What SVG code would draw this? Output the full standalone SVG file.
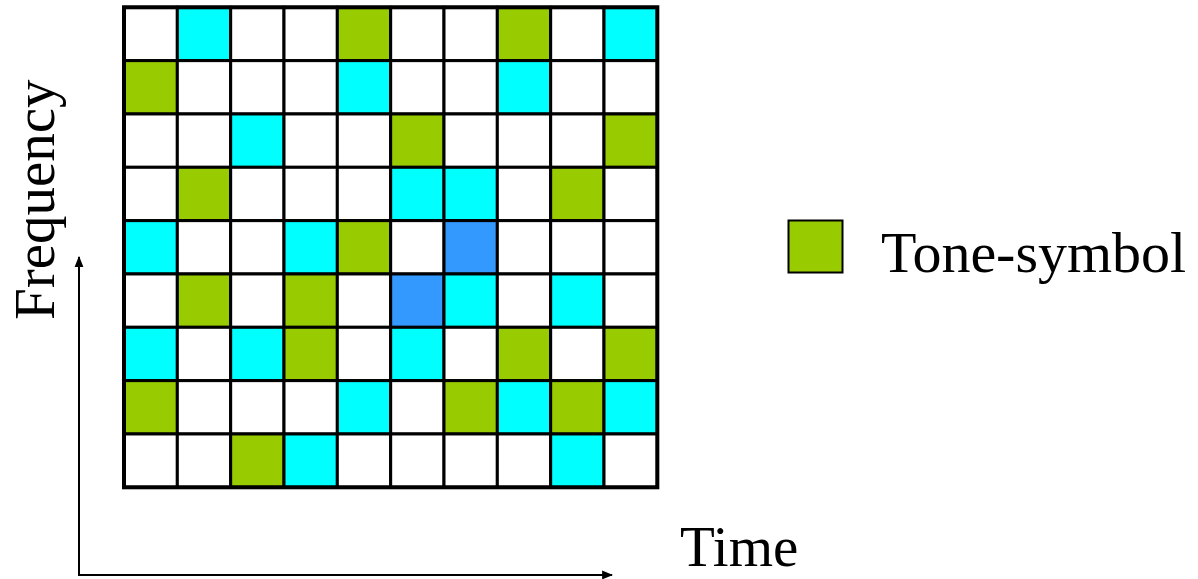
<svg xmlns="http://www.w3.org/2000/svg" width="1198" height="579" viewBox="0 0 1198 579">
<style>
.c{stroke:#000;stroke-width:3}
.w{fill:#fff}.g{fill:#99cc00}.q{fill:#00ffff}.b{fill:#3399ff}
.t{font-family:"Liberation Serif",serif;font-size:57px;fill:#000}
</style>
<defs>
<marker id="ah" viewBox="0 0 10 10" refX="9" refY="5" markerWidth="5.5" markerHeight="5.5" orient="auto" markerUnits="strokeWidth">
<path d="M0,1 L10,5 L0,9 z" fill="#000"/>
</marker>
</defs>
<rect width="1198" height="579" fill="#fff"/>
<g id="grid">
<g transform="translate(124,7.3)">
<!-- row 0 -->
<rect class="c w" x="0" y="0" width="53.33" height="53.33"/>
<rect class="c q" x="53.33" y="0" width="53.33" height="53.33"/>
<rect class="c w" x="106.67" y="0" width="53.33" height="53.33"/>
<rect class="c w" x="160" y="0" width="53.33" height="53.33"/>
<rect class="c g" x="213.33" y="0" width="53.33" height="53.33"/>
<rect class="c w" x="266.67" y="0" width="53.33" height="53.33"/>
<rect class="c w" x="320" y="0" width="53.33" height="53.33"/>
<rect class="c g" x="373.33" y="0" width="53.33" height="53.33"/>
<rect class="c w" x="426.67" y="0" width="53.33" height="53.33"/>
<rect class="c q" x="480" y="0" width="53.33" height="53.33"/>
<!-- row 1 -->
<rect class="c g" x="0" y="53.33" width="53.33" height="53.33"/>
<rect class="c w" x="53.33" y="53.33" width="53.33" height="53.33"/>
<rect class="c w" x="106.67" y="53.33" width="53.33" height="53.33"/>
<rect class="c w" x="160" y="53.33" width="53.33" height="53.33"/>
<rect class="c q" x="213.33" y="53.33" width="53.33" height="53.33"/>
<rect class="c w" x="266.67" y="53.33" width="53.33" height="53.33"/>
<rect class="c w" x="320" y="53.33" width="53.33" height="53.33"/>
<rect class="c q" x="373.33" y="53.33" width="53.33" height="53.33"/>
<rect class="c w" x="426.67" y="53.33" width="53.33" height="53.33"/>
<rect class="c w" x="480" y="53.33" width="53.33" height="53.33"/>
<!-- row 2 -->
<rect class="c w" x="0" y="106.67" width="53.33" height="53.33"/>
<rect class="c w" x="53.33" y="106.67" width="53.33" height="53.33"/>
<rect class="c q" x="106.67" y="106.67" width="53.33" height="53.33"/>
<rect class="c w" x="160" y="106.67" width="53.33" height="53.33"/>
<rect class="c w" x="213.33" y="106.67" width="53.33" height="53.33"/>
<rect class="c g" x="266.67" y="106.67" width="53.33" height="53.33"/>
<rect class="c w" x="320" y="106.67" width="53.33" height="53.33"/>
<rect class="c w" x="373.33" y="106.67" width="53.33" height="53.33"/>
<rect class="c w" x="426.67" y="106.67" width="53.33" height="53.33"/>
<rect class="c g" x="480" y="106.67" width="53.33" height="53.33"/>
<!-- row 3 -->
<rect class="c w" x="0" y="160" width="53.33" height="53.33"/>
<rect class="c g" x="53.33" y="160" width="53.33" height="53.33"/>
<rect class="c w" x="106.67" y="160" width="53.33" height="53.33"/>
<rect class="c w" x="160" y="160" width="53.33" height="53.33"/>
<rect class="c w" x="213.33" y="160" width="53.33" height="53.33"/>
<rect class="c q" x="266.67" y="160" width="53.33" height="53.33"/>
<rect class="c q" x="320" y="160" width="53.33" height="53.33"/>
<rect class="c w" x="373.33" y="160" width="53.33" height="53.33"/>
<rect class="c g" x="426.67" y="160" width="53.33" height="53.33"/>
<rect class="c w" x="480" y="160" width="53.33" height="53.33"/>
<!-- row 4 -->
<rect class="c q" x="0" y="213.33" width="53.33" height="53.33"/>
<rect class="c w" x="53.33" y="213.33" width="53.33" height="53.33"/>
<rect class="c w" x="106.67" y="213.33" width="53.33" height="53.33"/>
<rect class="c q" x="160" y="213.33" width="53.33" height="53.33"/>
<rect class="c g" x="213.33" y="213.33" width="53.33" height="53.33"/>
<rect class="c w" x="266.67" y="213.33" width="53.33" height="53.33"/>
<rect class="c b" x="320" y="213.33" width="53.33" height="53.33"/>
<rect class="c w" x="373.33" y="213.33" width="53.33" height="53.33"/>
<rect class="c w" x="426.67" y="213.33" width="53.33" height="53.33"/>
<rect class="c w" x="480" y="213.33" width="53.33" height="53.33"/>
<!-- row 5 -->
<rect class="c w" x="0" y="266.67" width="53.33" height="53.33"/>
<rect class="c g" x="53.33" y="266.67" width="53.33" height="53.33"/>
<rect class="c w" x="106.67" y="266.67" width="53.33" height="53.33"/>
<rect class="c g" x="160" y="266.67" width="53.33" height="53.33"/>
<rect class="c w" x="213.33" y="266.67" width="53.33" height="53.33"/>
<rect class="c b" x="266.67" y="266.67" width="53.33" height="53.33"/>
<rect class="c q" x="320" y="266.67" width="53.33" height="53.33"/>
<rect class="c w" x="373.33" y="266.67" width="53.33" height="53.33"/>
<rect class="c q" x="426.67" y="266.67" width="53.33" height="53.33"/>
<rect class="c w" x="480" y="266.67" width="53.33" height="53.33"/>
<!-- row 6 -->
<rect class="c q" x="0" y="320" width="53.33" height="53.33"/>
<rect class="c w" x="53.33" y="320" width="53.33" height="53.33"/>
<rect class="c q" x="106.67" y="320" width="53.33" height="53.33"/>
<rect class="c g" x="160" y="320" width="53.33" height="53.33"/>
<rect class="c w" x="213.33" y="320" width="53.33" height="53.33"/>
<rect class="c q" x="266.67" y="320" width="53.33" height="53.33"/>
<rect class="c w" x="320" y="320" width="53.33" height="53.33"/>
<rect class="c g" x="373.33" y="320" width="53.33" height="53.33"/>
<rect class="c w" x="426.67" y="320" width="53.33" height="53.33"/>
<rect class="c g" x="480" y="320" width="53.33" height="53.33"/>
<!-- row 7 -->
<rect class="c g" x="0" y="373.33" width="53.33" height="53.33"/>
<rect class="c w" x="53.33" y="373.33" width="53.33" height="53.33"/>
<rect class="c w" x="106.67" y="373.33" width="53.33" height="53.33"/>
<rect class="c w" x="160" y="373.33" width="53.33" height="53.33"/>
<rect class="c q" x="213.33" y="373.33" width="53.33" height="53.33"/>
<rect class="c w" x="266.67" y="373.33" width="53.33" height="53.33"/>
<rect class="c g" x="320" y="373.33" width="53.33" height="53.33"/>
<rect class="c q" x="373.33" y="373.33" width="53.33" height="53.33"/>
<rect class="c g" x="426.67" y="373.33" width="53.33" height="53.33"/>
<rect class="c q" x="480" y="373.33" width="53.33" height="53.33"/>
<!-- row 8 -->
<rect class="c w" x="0" y="426.67" width="53.33" height="53.33"/>
<rect class="c w" x="53.33" y="426.67" width="53.33" height="53.33"/>
<rect class="c g" x="106.67" y="426.67" width="53.33" height="53.33"/>
<rect class="c q" x="160" y="426.67" width="53.33" height="53.33"/>
<rect class="c w" x="213.33" y="426.67" width="53.33" height="53.33"/>
<rect class="c w" x="266.67" y="426.67" width="53.33" height="53.33"/>
<rect class="c w" x="320" y="426.67" width="53.33" height="53.33"/>
<rect class="c w" x="373.33" y="426.67" width="53.33" height="53.33"/>
<rect class="c q" x="426.67" y="426.67" width="53.33" height="53.33"/>
<rect class="c w" x="480" y="426.67" width="53.33" height="53.33"/>
<rect x="0" y="0" width="533.33" height="480" fill="none" stroke="#000" stroke-width="4"/>
</g>
</g>
<g id="axes" fill="none" stroke="#000" stroke-width="2">
<line x1="79" y1="575" x2="79" y2="257" marker-end="url(#ah)"/>
<line x1="78" y1="575" x2="612" y2="575" marker-end="url(#ah)"/>
</g>
<g id="label-frequency">
<text class="t" transform="translate(54,320) rotate(-90)">Frequency</text>
</g>
<g id="label-time">
<text class="t" x="680" y="566">Time</text>
</g>
<g id="legend">
<rect x="788.5" y="220.5" width="54" height="52" fill="#99cc00" stroke="#000" stroke-width="2"/>
<text class="t" x="881" y="272" style="font-size:58px">Tone-symbol</text>
</g>
</svg>
